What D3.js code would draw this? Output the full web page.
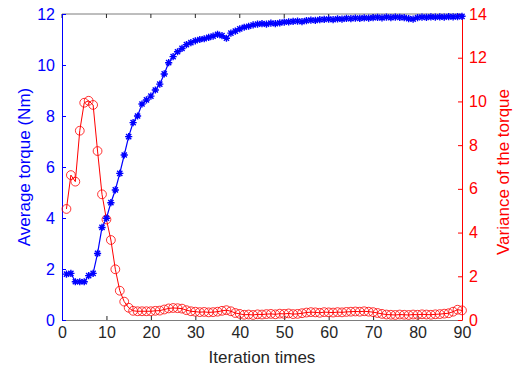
<!DOCTYPE html>
<html>
<head>
<meta charset="utf-8">
<script src="https://cdn.jsdelivr.net/npm/d3@7"></script>
<style>
  body { margin: 0; background: #fff; }
  text { font-family: "Liberation Sans", Arial, sans-serif; }
</style>
</head>
<body>
<div id="chart"></div>
<script>
const iterations = d3.range(1, 91)

const avgTorque = [
  1.80, 1.83, 1.50, 1.50, 1.50, 1.74, 1.83, 2.61, 3.63, 3.99,
  4.60, 5.10, 5.75, 6.47, 7.19, 7.74, 8.00, 8.47, 8.63, 8.78,
  9.02, 9.25, 9.65, 10.09, 10.33, 10.52, 10.65, 10.80, 10.88, 10.95,
  11.00, 11.03, 11.08, 11.13, 11.20, 11.15, 11.05, 11.25, 11.33, 11.42,
  11.48, 11.52, 11.57, 11.60, 11.62, 11.60, 11.64, 11.62, 11.65, 11.68,
  11.69, 11.71, 11.72, 11.70, 11.74, 11.76, 11.75, 11.78, 11.79, 11.80,
  11.78, 11.81, 11.80, 11.83, 11.82, 11.84, 11.83, 11.85, 11.84, 11.86,
  11.87, 11.85, 11.88, 11.86, 11.88, 11.87, 11.86, 11.82, 11.80, 11.86,
  11.88, 11.87, 11.89, 11.88, 11.89, 11.88, 11.90, 11.89, 11.90, 11.91
]

const torqueVariance = [
  5.08, 6.63, 6.33, 8.66, 9.94, 10.03, 9.84, 7.73, 5.75, 4.60,
  3.66, 2.32, 1.34, 0.84, 0.56, 0.42, 0.40, 0.40, 0.40, 0.40,
  0.42, 0.43, 0.48, 0.53, 0.55, 0.54, 0.52, 0.45, 0.40, 0.38,
  0.36, 0.37, 0.35, 0.36, 0.38, 0.42, 0.45, 0.40, 0.32, 0.28,
  0.24, 0.25, 0.23, 0.26, 0.25, 0.27, 0.28, 0.26, 0.29, 0.28,
  0.30, 0.27, 0.28, 0.31, 0.34, 0.36, 0.35, 0.33, 0.36, 0.35,
  0.34, 0.36, 0.35, 0.37, 0.38, 0.39, 0.38, 0.40, 0.38, 0.36,
  0.32, 0.28, 0.25, 0.24, 0.23, 0.25, 0.24, 0.23, 0.25, 0.24,
  0.26, 0.25, 0.24, 0.26, 0.27, 0.29, 0.31, 0.38, 0.47, 0.44
]

const xTicks = d3.range(0, 91, 10)
const leftTicks = d3.range(0, 13, 2)
const rightTicks = d3.range(0, 15, 2)

const width = 524
const height = 371
const margin = { top: 14, right: 62, bottom: 51, left: 62 }
const innerW = width - margin.left - margin.right
const innerH = height - margin.top - margin.bottom

const blue = '#0000ff'
const red = '#ff0000'

const svg = d3.select('#chart')
  .append('svg')
  .attr('width', width)
  .attr('height', height)

const g = svg.append('g')
  .attr('transform', 'translate(' + margin.left + ',' + margin.top + ')')

const x = d3.scaleLinear().domain([0, 90]).range([0, innerW])
const yLeft = d3.scaleLinear().domain([0, 12]).range([innerH, 0])
const yRight = d3.scaleLinear().domain([0, 14]).range([innerH, 0])

// box edge on top
g.append('line')
  .attr('x1', 0).attr('x2', innerW).attr('y1', 0).attr('y2', 0)
  .style('stroke', '#262626').style('stroke-opacity', 0.6)

// bottom axis
const xAxis = g.append('g')
  .attr('transform', 'translate(0,' + innerH + ')')
  .call(d3.axisBottom(x).tickValues(xTicks).tickSizeInner(-4).tickSizeOuter(0).tickPadding(7))
xAxis.select('.domain').style('stroke', '#262626').style('stroke-opacity', 0.6)
xAxis.selectAll('.tick line').style('stroke', '#262626')
xAxis.selectAll('text').style('font-size', '16px').style('fill', '#262626')

// top ticks
g.selectAll('.topTick')
  .data(xTicks)
  .enter()
  .append('line')
  .attr('x1', d => x(d)).attr('x2', d => x(d))
  .attr('y1', 0).attr('y2', 4)
  .style('stroke', '#262626')

// left axis
const leftAxis = g.append('g')
  .call(d3.axisLeft(yLeft).tickValues(leftTicks).tickSizeInner(-4).tickSizeOuter(0).tickPadding(7))
leftAxis.select('.domain').style('stroke', blue)
leftAxis.selectAll('.tick line').style('stroke', blue)
leftAxis.selectAll('text').style('font-size', '16px').style('fill', blue)

// right axis
const rightAxis = g.append('g')
  .attr('transform', 'translate(' + innerW + ',0)')
  .call(d3.axisRight(yRight).tickValues(rightTicks).tickSizeInner(-4).tickSizeOuter(0).tickPadding(7))
rightAxis.select('.domain').style('stroke', red)
rightAxis.selectAll('.tick line').style('stroke', red)
rightAxis.selectAll('text').style('font-size', '16px').style('fill', red)

// axis titles
svg.append('text')
  .attr('x', margin.left + innerW / 2)
  .attr('y', 363)
  .attr('text-anchor', 'middle')
  .style('font-size', '17px')
  .style('fill', '#262626')
  .text('Iteration times')

svg.append('text')
  .attr('transform', 'translate(30,' + (margin.top + innerH / 2) + ') rotate(-90)')
  .attr('text-anchor', 'middle')
  .style('font-size', '17px')
  .style('fill', blue)
  .text('Average torque (Nm)')

svg.append('text')
  .attr('transform', 'translate(509,172) rotate(-90)')
  .attr('text-anchor', 'middle')
  .style('font-size', '17px')
  .style('fill', red)
  .text('Variance of the torque')

// red series
const redLine = d3.line()
  .x((d, i) => x(iterations[i]))
  .y(d => yRight(d))

g.append('path')
  .datum(torqueVariance)
  .attr('d', redLine)
  .style('fill', 'none')
  .style('stroke', red)
  .style('stroke-width', 1)

g.selectAll('.varDot')
  .data(torqueVariance)
  .enter()
  .append('circle')
  .attr('cx', (d, i) => x(iterations[i]))
  .attr('cy', d => yRight(d))
  .attr('r', 4.4)
  .style('fill', 'none')
  .style('stroke', red)
  .style('stroke-width', 0.8)

// blue series
const blueLine = d3.line()
  .x((d, i) => x(iterations[i]))
  .y(d => yLeft(d))

g.append('path')
  .datum(avgTorque)
  .attr('d', blueLine)
  .style('fill', 'none')
  .style('stroke', blue)
  .style('stroke-width', 1.2)

// asterisk markers
const s = 3.6
const asterisk = 'M' + (-s) + ',0L' + s + ',0M0,' + (-s) + 'L0,' + s +
  'M' + (-s * 0.72) + ',' + (-s * 0.72) + 'L' + (s * 0.72) + ',' + (s * 0.72) +
  'M' + (-s * 0.72) + ',' + (s * 0.72) + 'L' + (s * 0.72) + ',' + (-s * 0.72)

g.selectAll('.torqueMark')
  .data(avgTorque)
  .enter()
  .append('path')
  .attr('transform', (d, i) => 'translate(' + x(iterations[i]) + ',' + yLeft(d) + ')')
  .attr('d', asterisk)
  .style('fill', 'none')
  .style('stroke', blue)
  .style('stroke-width', 1.4)
</script>
</body>
</html>
